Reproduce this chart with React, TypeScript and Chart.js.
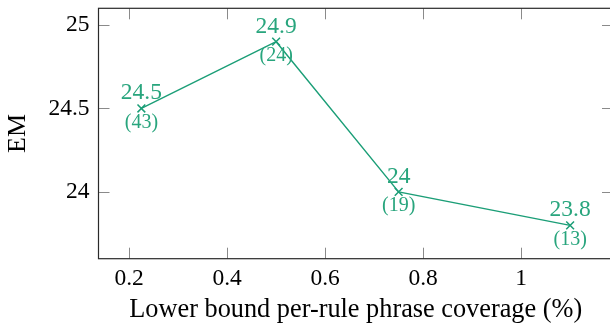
import React, { useEffect, useRef } from "react";
import { Chart, registerables } from "chart.js";

Chart.register(...registerables);

const coverage = [0.225, 0.5, 0.75, 1.1];
const emScores = [24.5, 24.9, 24.0, 23.8];
const ruleCounts = [43, 24, 19, 13];
const xTickValues = [0.2, 0.4, 0.6, 0.8, 1.0];
const yTickValues = [24, 24.5, 25];
const xTitle = "Lower bound per-rule phrase coverage (%)";
const yTitle = "EM";

const GREEN = "rgb(27,158,119)";
const LABEL_GREEN = "rgb(40,165,125)";
const FONT = "'Liberation Serif', 'Times New Roman', serif";

const boxPlugin = {
  id: "pgfBox",
  beforeDatasetsDraw(chart: any) {
    const { ctx, chartArea, scales } = chart;
    const { left, right, top, bottom } = chartArea;
    const tl = 11;
    ctx.save();
    ctx.strokeStyle = "#8a8a8a";
    ctx.lineWidth = 1;
    xTickValues.forEach((v) => {
      const px = Math.round(scales.x.getPixelForValue(v)) + 0.5;
      ctx.beginPath();
      ctx.moveTo(px, bottom);
      ctx.lineTo(px, bottom - tl);
      ctx.moveTo(px, top);
      ctx.lineTo(px, top + tl);
      ctx.stroke();
    });
    yTickValues.forEach((v) => {
      const py = Math.round(scales.y.getPixelForValue(v)) + 0.5;
      ctx.beginPath();
      ctx.moveTo(left, py);
      ctx.lineTo(left + tl, py);
      ctx.moveTo(right, py);
      ctx.lineTo(right - tl, py);
      ctx.stroke();
    });
    ctx.strokeStyle = "#2a2a2a";
    ctx.lineWidth = 1.2;
    ctx.strokeRect(left, top, right - left, bottom - top);
    ctx.restore();
  },
  afterDatasetsDraw(chart: any) {
    const { ctx, scales } = chart;
    ctx.save();
    ctx.fillStyle = LABEL_GREEN;
    ctx.textAlign = "center";
    ctx.textBaseline = "alphabetic";
    coverage.forEach((xv, i) => {
      const px = scales.x.getPixelForValue(xv);
      const py = scales.y.getPixelForValue(emScores[i]);
      ctx.font = `23.5px ${FONT}`;
      ctx.fillText(String(emScores[i]), px, py - 9);
      ctx.font = `20px ${FONT}`;
      ctx.fillText(`(${ruleCounts[i]})`, px, py + 19.5);
    });
    ctx.restore();
  },
};

export default function App() {
  const canvasRef = useRef<HTMLCanvasElement | null>(null);

  useEffect(() => {
    const canvas = canvasRef.current;
    if (!canvas) return;
    const chart = new Chart(canvas, {
      type: "line",
      data: {
        datasets: [
          {
            data: coverage.map((x, i) => ({ x, y: emScores[i] })),
            borderColor: GREEN,
            backgroundColor: GREEN,
            borderWidth: 1.4,
            pointStyle: "crossRot",
            pointRadius: 5.5,
            pointBorderWidth: 1.5,
            pointBorderColor: GREEN,
            tension: 0,
            fill: false,
            clip: false as any,
          },
        ],
      },
      options: {
        responsive: false,
        maintainAspectRatio: false,
        devicePixelRatio: 1,
        animation: false,
        layout: { padding: { top: 8.3, right: 5.5, left: 0, bottom: 0 } },
        plugins: {
          legend: { display: false },
          tooltip: { enabled: false },
        },
        scales: {
          x: {
            type: "linear",
            min: 0.1375,
            max: 1.1875,
            afterBuildTicks: (s: any) => {
              s.ticks = xTickValues.map((v) => ({ value: v }));
            },
            afterFit: (s: any) => {
              s.height = 64.3;
              s.paddingLeft = 0;
              s.paddingRight = 0;
              s.paddingTop = 0;
              s.paddingBottom = 0;
            },
            grid: { display: false, drawTicks: false },
            border: { display: false },
            ticks: {
              color: "#000",
              padding: 6,
              maxRotation: 0,
              font: { family: FONT, size: 23.5 },
              callback: (v: any) => String(v),
            },
            title: {
              display: true,
              text: xTitle,
              color: "#000",
              font: { family: FONT, size: 26.3, lineHeight: 1 },
              padding: { top: 0, bottom: 0 },
            },
          },
          y: {
            type: "linear",
            min: 23.6,
            max: 25.1,
            afterBuildTicks: (s: any) => {
              s.ticks = yTickValues.map((v) => ({ value: v }));
            },
            afterFit: (s: any) => {
              s.width = 98.5;
              s.paddingLeft = 0;
              s.paddingRight = 0;
              s.paddingTop = 0;
              s.paddingBottom = 0;
            },
            grid: { display: false, drawTicks: false },
            border: { display: false },
            ticks: {
              color: "#000",
              padding: 9,
              font: { family: FONT, size: 23.5 },
              callback: (v: any) => String(v),
            },
            title: {
              display: true,
              text: yTitle,
              color: "#000",
              font: { family: FONT, size: 26, lineHeight: 1 },
              padding: { top: 5, bottom: 0 },
            },
          },
        },
      },
      plugins: [boxPlugin],
    });
    return () => chart.destroy();
  }, []);

  return (
    <div
      style={{
        position: "fixed",
        left: 0,
        top: 0,
        width: 610,
        height: 323,
        overflow: "hidden",
        background: "#fff",
      }}
    >
      <canvas ref={canvasRef} width={620} height={323} style={{ display: "block" }} />
    </div>
  );
}
